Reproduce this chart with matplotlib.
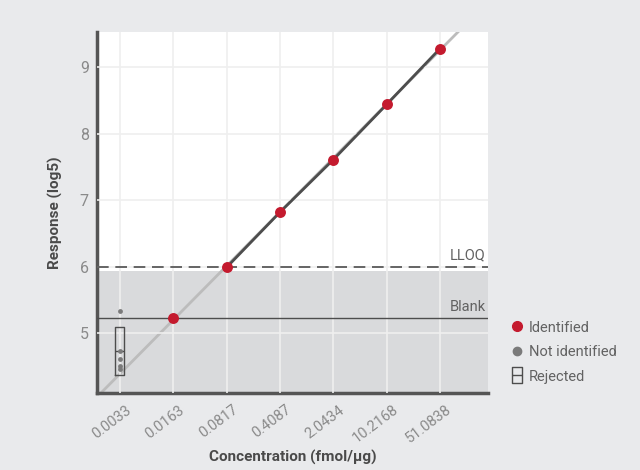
import numpy as np
import matplotlib
matplotlib.use("Agg")
import matplotlib.pyplot as plt
from matplotlib.lines import Line2D
from matplotlib.path import Path
from matplotlib.transforms import ScaledTranslation

plt.rcParams["font.family"] = ["Roboto", "DejaVu Sans"]

# ---------- data ----------
concentrations = ["0.0033", "0.0163", "0.0817", "0.4087", "2.0434", "10.2168", "51.0838"]
identified_idx = [1, 2, 3, 4, 5, 6]
identified_resp = [5.23, 5.99, 6.82, 7.61, 8.44, 9.28]
not_identified_idx = [0, 0, 0, 0, 0]
not_identified_resp = [5.34, 4.73, 4.61, 4.50, 4.46]
rejected_box = dict(med=4.73, q1=4.37, q3=5.09)
lloq = 6.0
blank = 5.23

# ---------- colours ----------
BG = "#e9eaec"
SHADE = "#d9dadc"
RED = "#c41a2e"
DOT_GRAY = "#7a7a7a"
DARK = "#4d4d4d"
LIGHT_LINE = "#bcbcbc"
TICK = "#8a8a8a"
TEXT = "#626262"

fig = plt.figure(figsize=(6.4, 4.7), dpi=100, facecolor=BG)
ax = fig.add_axes([0.1516, 0.1638, 0.6109, 0.7682])
ax.set_facecolor("white")

x = np.arange(len(concentrations))
ax.set_xlim(-0.43, 6.9)
ax.set_ylim(4.1, 9.53)

# shaded area below LLOQ
ax.axhspan(4.0, lloq - 0.06, color=SHADE, zorder=0.5, lw=0)

# grid
ax.set_xticks(x)
ax.set_yticks([5, 6, 7, 8, 9])
ax.grid(True, color="#efefef", lw=1.2, zorder=0.8)
ax.set_axisbelow(False)

# regression line (light) over identified points
slope, intercept = np.polyfit(identified_idx, identified_resp, 1)
xx = np.array([-1.0, 8.0])
ax.plot(xx, slope * xx + intercept, color=LIGHT_LINE, lw=2, zorder=2)

# connecting line above LLOQ
above = [(i, r) for i, r in zip(identified_idx, identified_resp) if r >= lloq - 0.05]
ax.plot([a[0] for a in above], [a[1] for a in above], color=DARK, lw=2, zorder=3)

# LLOQ and blank
ax.axhline(lloq, color=DARK, lw=1.2, ls=(0, (7, 4)), zorder=3)
ax.axhline(blank, color=DARK, lw=1.0, zorder=3)
ax.text(6.86, lloq + 0.06, "LLOQ", ha="right", va="bottom", fontsize=10.5,
        color=TEXT, zorder=4)
ax.text(6.86, blank + 0.06, "Blank", ha="right", va="bottom", fontsize=10.5,
        color=TEXT, zorder=4)

# rejected box
stats = [dict(med=rejected_box["med"], q1=rejected_box["q1"], q3=rejected_box["q3"],
              whislo=rejected_box["q1"], whishi=rejected_box["q3"], fliers=[])]
ax.bxp(stats, positions=[0], widths=0.17, showcaps=False, showfliers=False,
       manage_ticks=False, patch_artist=False,
       boxprops=dict(color=DARK, lw=1.0, zorder=3),
       medianprops=dict(color=DARK, lw=1.0, zorder=3),
       whiskerprops=dict(color=DARK, lw=1.0, zorder=3))

# points
ax.scatter(not_identified_idx, not_identified_resp, s=12, color=DOT_GRAY, zorder=4, lw=0)
ax.scatter(identified_idx, identified_resp, s=62, color=RED, zorder=5, lw=0)

# spines and ticks
for s in ["top", "right"]:
    ax.spines[s].set_visible(False)
for s in ["left", "bottom"]:
    ax.spines[s].set_color("#555555")
    ax.spines[s].set_linewidth(2.5)
ax.tick_params(axis="y", length=0, pad=6, colors=TICK, labelsize=11.5)
ax.tick_params(axis="x", length=0, pad=7, colors=TICK, labelsize=10.5)
ax.set_xticklabels(concentrations, rotation=37, ha="right", va="top",
                   rotation_mode="anchor")
shift = ScaledTranslation(4 / 72, 0, fig.dpi_scale_trans)
for lbl in ax.get_xticklabels():
    lbl.set_transform(lbl.get_transform() + shift)

ax.set_xlabel("Concentration (fmol/µg)", fontsize=11, fontweight="bold",
              color="#4a4a4a", labelpad=3)
ax.set_ylabel("Response (log5)", fontsize=11, fontweight="bold",
              color="#4a4a4a", labelpad=12)

# legend
rej_path = Path([(-0.3, -0.5), (0.3, -0.5), (0.3, 0.5), (-0.3, 0.5), (-0.3, -0.5),
                 (-0.3, 0.0), (0.3, 0.0)],
                [Path.MOVETO, Path.LINETO, Path.LINETO, Path.LINETO, Path.CLOSEPOLY,
                 Path.MOVETO, Path.LINETO])
handles = [
    Line2D([], [], ls="", marker="o", ms=7, mfc=RED, mec=RED, label="Identified"),
    Line2D([], [], ls="", marker="o", ms=6, mfc=DOT_GRAY, mec=DOT_GRAY, label="Not identified"),
    Line2D([], [], ls="", marker=rej_path, ms=11, mfc="none", mec=DARK, mew=1.0,
           label="Rejected"),
]
fig.legend(handles=handles, loc="center left", bbox_to_anchor=(0.778, 0.251),
           frameon=False, handlelength=0.8, handletextpad=0.4,
           labelspacing=0.72, labelcolor=TEXT, prop=dict(size=10.5))

fig.savefig("out.png", dpi=100, facecolor=BG)
